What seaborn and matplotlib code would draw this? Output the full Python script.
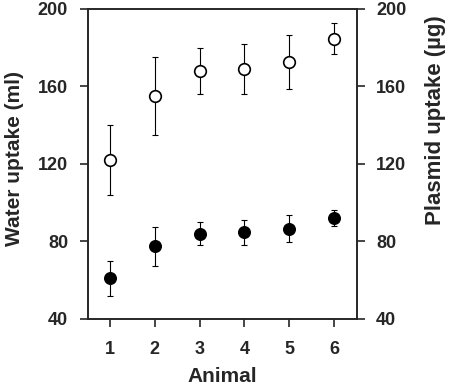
import numpy as np
import pandas as pd
import matplotlib
matplotlib.use("Agg")
import matplotlib.pyplot as plt
import seaborn as sns

animals = [1, 2, 3, 4, 5, 6]
water_mean = [122, 155, 168, 169, 172.5, 184.5]
water_err = [18, 20, 12, 13, 14, 8]
plasmid_mean = [61, 77.5, 84, 84.7, 86.5, 92]
plasmid_err = [9, 10, 6, 6.5, 7, 4]

sns.set_style("ticks")
plt.rcParams['font.family'] = ['Liberation Sans', 'DejaVu Sans']
plt.rcParams['font.weight'] = 'bold'

fig = plt.figure(figsize=(4.49, 3.87), dpi=100)
ax = fig.add_axes([0.195, 0.176, 0.599, 0.801])
ax2 = ax.twinx()

df_w = pd.DataFrame({'animal': animals, 'value': water_mean})
df_p = pd.DataFrame({'animal': animals, 'value': plasmid_mean})

ax.errorbar(animals, water_mean, yerr=water_err, fmt='none', ecolor='black',
            elinewidth=0.8, capsize=2.5, capthick=0.8, zorder=1)
sns.scatterplot(data=df_w, x='animal', y='value', ax=ax, marker='o', s=70,
                facecolor='white', edgecolor='black', linewidth=1.2, zorder=3)

ax2.errorbar(animals, plasmid_mean, yerr=plasmid_err, fmt='none', ecolor='black',
             elinewidth=0.8, capsize=2.5, capthick=0.8, zorder=1)
sns.scatterplot(data=df_p, x='animal', y='value', ax=ax2, marker='o', s=70,
                color='black', edgecolor='black', linewidth=1.0, zorder=3)

for a in (ax, ax2):
    a.set_ylim(40, 200)
    a.set_yticks([40, 80, 120, 160, 200])
    a.set_xlim(0.5, 6.5)
    a.tick_params(labelsize=13, length=6, width=1.2, direction='out')
    a.tick_params(axis='y', pad=8)
    for s in a.spines.values():
        s.set_linewidth(1.2)
        s.set_visible(True)

ax.tick_params(axis='x', pad=10)
ax.set_xticks(animals)
ax.set_xlabel('Animal', fontsize=15, fontweight='bold')
ax.set_ylabel('Water uptake (ml)', fontsize=15, fontweight='bold')
ax2.set_ylabel('Plasmid uptake (µg)', fontsize=16, fontweight='bold')
ax.xaxis.set_label_coords(0.5, -0.155)
ax.yaxis.set_label_coords(-0.238, 0.516)
ax2.yaxis.set_label_coords(1.255, 0.64)

for lab in ax.get_xticklabels() + ax.get_yticklabels() + ax2.get_yticklabels():
    lab.set_fontweight('bold')

fig.savefig('out.png', dpi=100)
